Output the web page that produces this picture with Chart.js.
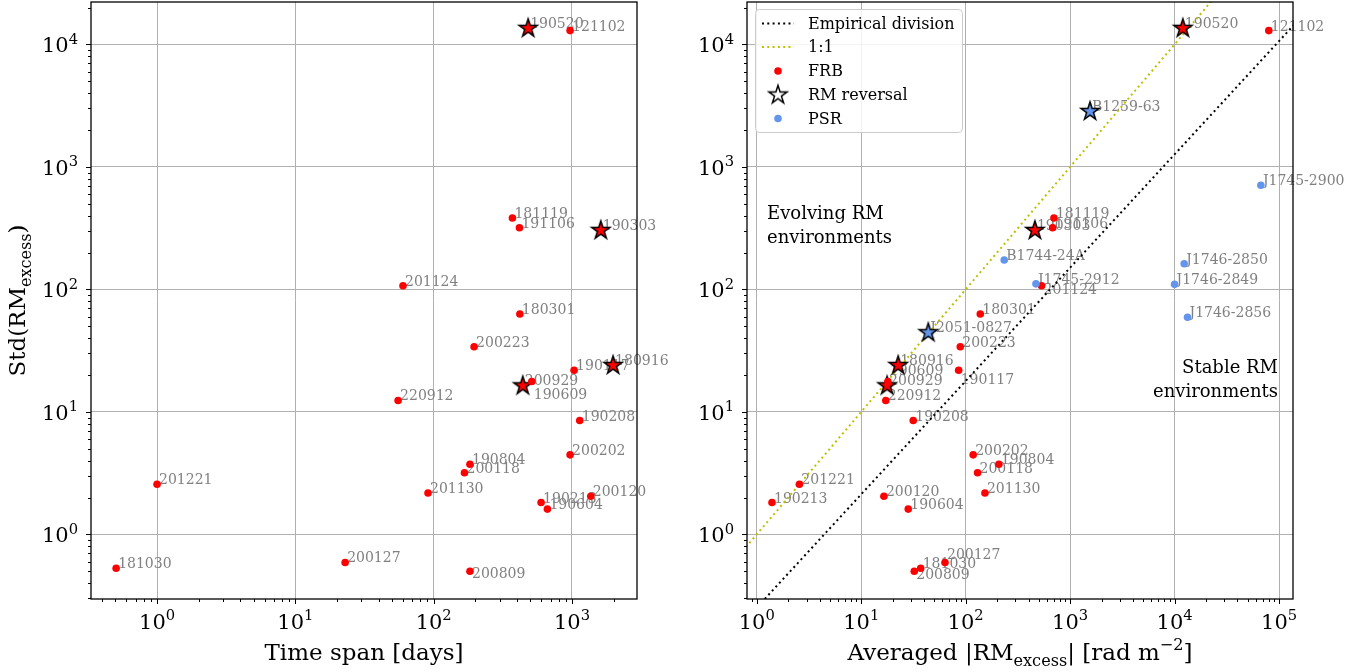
<!DOCTYPE html>
<html>
<head>
<meta charset="utf-8">
<script src="https://cdn.jsdelivr.net/npm/chart.js@4.4.1/dist/chart.umd.min.js"></script>
<style>
  html, body { margin: 0; padding: 0; background: #fff; }
  #wrap { position: relative; width: 1369px; height: 672px; }
  canvas { position: absolute; top: 0; }
  #spanChart { left: 0; }
  #rmChart { left: 690px; }
</style>
</head>
<body>
<div id="wrap">
  <canvas id="spanChart" width="690" height="672"></canvas>
  <canvas id="rmChart" width="679" height="672"></canvas>
</div>
<script>
// FRB sample
const frbNames = ['190520','121102','181119','191106','190303','180301','200223','190117','180916','200929','190609','190208','220912','201124','200202','190804','200118','201130','190213','190604','200120','200809','201221','181030','200127'];
const frbSpan = [482, 969, 371, 417, 1615, 420, 196, 1036, 1983, 441, 512, 1138, 55.3, 60, 969, 183, 167, 91, 598, 664, 1368, 183, 1.0, 0.506, 22.9];
const frbMeanRM = [12000, 79800, 700, 680, 460, 138, 88.8, 85.7, 22.6, 17.7, 18.0, 31.5, 17.2, 533, 118, 208, 130, 153, 1.4, 28.2, 16.5, 32.2, 2.56, 37.1, 63.4];
const frbStdRM = [13650, 12970, 383, 319, 306, 63, 34, 21.9, 24.2, 16.5, 17.7, 8.5, 12.4, 107, 4.46, 3.74, 3.19, 2.18, 1.82, 1.61, 2.05, 0.5, 2.57, 0.53, 0.59];
const frbReversal = [true, false, false, false, true, false, false, false, true, true, false, false, false, false, false, false, false, false, false, false, false, false, false, false, false];

// pulsars
const psrNames = ['B1259-63','J2051-0827','J1745-2900','J1746-2850','J1746-2849','J1746-2856','B1744-24A','J1745-2912'];
const psrMeanRM = [1550, 43.9, 67000, 12360, 10000, 13300, 234, 471];
const psrStdRM = [2866, 44.8, 709, 162, 110, 59.3, 174, 111];
const psrReversal = [true, true, false, false, false, false, false, false];

// reference lines (end points)
const empiricalX = [0.5, 150000];
const empiricalY = [0.133, 15500];
const unityX = [0.5, 30000];
const unityY = [0.5, 30000];

// axis ranges and decade ticks
const spanRange = [0.333, 2952];
const rmRange = [0.807, 136000];
const stdRange = [0.297, 22200];
const spanTicks = [0, 1, 2, 3];
const rmTicks = [0, 1, 2, 3, 4, 5];
const stdTicks = [0, 1, 2, 3, 4];

const SERIF = '"DejaVu Serif", "Liberation Serif", serif';

// label nudges (px) where the labels were pushed apart
const leftShift = { '190609': [0, 17], '200809': [0, 7] };
const rightShift = { '190609': [0, -7], '190117': [0, 14], '201124': [0, 8], '200127': [0, -3], '200809': [0, 8] };

function makeStar(fill) {
  const c = document.createElement('canvas');
  c.width = 26; c.height = 26;
  const g = c.getContext('2d');
  const R = 9.5, r = R * 0.382;
  g.beginPath();
  for (let i = 0; i < 10; i++) {
    const rad = i % 2 ? r : R;
    const ang = -Math.PI / 2 + i * Math.PI / 5;
    const px = 13 + rad * Math.cos(ang), py = 13.5 + rad * Math.sin(ang);
    if (i) g.lineTo(px, py); else g.moveTo(px, py);
  }
  g.closePath();
  g.fillStyle = fill; g.fill();
  g.lineWidth = 1.5; g.strokeStyle = '#000'; g.stroke();
  return c;
}
const redStar = makeStar('#ff0000');
const blueStar = makeStar('#6495ed');
const whiteStar = makeStar('#ffffff');

function richText(ctx, parts, x, y, size, align) {
  const sz = p => (p.s ? size * 0.7 : size);
  let w = 0;
  const ws = parts.map(p => { ctx.font = sz(p) + 'px ' + SERIF; const m = ctx.measureText(p.t).width; w += m; return m; });
  let cx = align === 'center' ? x - w / 2 : align === 'right' ? x - w : x;
  ctx.textAlign = 'left';
  ctx.textBaseline = 'alphabetic';
  parts.forEach((p, i) => {
    ctx.font = sz(p) + 'px ' + SERIF;
    const dy = p.s === 'sub' ? size * 0.25 : p.s === 'sup' ? -size * 0.42 : 0;
    ctx.fillText(p.t, cx, y + dy);
    cx += ws[i];
  });
}

function drawFrame(chart, xExp, yExp) {
  const { ctx, chartArea: a, scales: { x, y } } = chart;
  ctx.save();
  ctx.strokeStyle = '#000';
  ctx.lineWidth = 1;
  ctx.beginPath();
  for (let e = -1; e <= 6; e++) {
    for (let m = 1; m < 10; m++) {
      const v = m * Math.pow(10, e);
      const len = m === 1 ? 5 : 3;
      if (v >= x.min && v <= x.max) {
        const px = Math.round(x.getPixelForValue(v)) + 0.5;
        ctx.moveTo(px, a.bottom); ctx.lineTo(px, a.bottom + len);
      }
      if (v >= y.min && v <= y.max) {
        const py = Math.round(y.getPixelForValue(v)) + 0.5;
        ctx.moveTo(a.left, py); ctx.lineTo(a.left - len, py);
      }
    }
  }
  ctx.stroke();
  ctx.lineWidth = 1.3;
  ctx.strokeRect(a.left, a.top, a.right - a.left, a.bottom - a.top);

  ctx.fillStyle = '#000';
  xExp.forEach(e => richText(ctx, [{ t: '10' }, { t: String(e), s: 'sup' }], x.getPixelForValue(Math.pow(10, e)), 629, 21, 'center'));
  yExp.forEach(e => richText(ctx, [{ t: '10' }, { t: String(e), s: 'sup' }], a.left - 13, y.getPixelForValue(Math.pow(10, e)) + 8, 21, 'right'));
  ctx.restore();
}

function pointLabels(sets, shifts) {
  return {
    id: 'pointLabels',
    beforeDatasetsDraw(chart) {
      const { ctx, scales: { x, y } } = chart;
      ctx.save();
      ctx.font = '14px ' + SERIF;
      ctx.fillStyle = '#808080';
      ctx.textAlign = 'left';
      ctx.textBaseline = 'alphabetic';
      sets.forEach(s => s.names.forEach((n, i) => {
        const d = shifts[n] || [0, 0];
        ctx.fillText(n, x.getPixelForValue(s.xs[i]) + 2 + d[0], y.getPixelForValue(s.ys[i]) + d[1]);
      }));
      ctx.restore();
    }
  };
}

function logScale(range, exps, fit) {
  return {
    type: 'logarithmic',
    bounds: 'data',
    min: range[0],
    max: range[1],
    afterBuildTicks: s => { s.ticks = exps.map(e => ({ value: Math.pow(10, e) })); },
    afterFit: fit,
    ticks: { display: false },
    grid: { color: '#b0b0b0', lineWidth: 1, drawTicks: false },
    border: { display: false }
  };
}

function pointSet(xs, ys, flags, color, starImg) {
  return {
    data: xs.map((v, i) => ({ x: v, y: ys[i] })),
    pointStyle: c => (flags[c.dataIndex] ? starImg : 'circle'),
    pointRadius: 3.8,
    backgroundColor: color,
    pointBackgroundColor: color,
    borderWidth: 0,
    pointBorderWidth: 0
  };
}

function refLine(xs, ys, color) {
  return {
    data: xs.map((v, i) => ({ x: v, y: ys[i] })),
    showLine: true,
    pointRadius: 0,
    borderColor: color,
    borderWidth: 2,
    borderDash: [2, 3.3]
  };
}

// left panel: scatter vs time span
new Chart(document.getElementById('spanChart'), {
  type: 'scatter',
  data: { datasets: [pointSet(frbSpan, frbStdRM, frbReversal, '#ff0000', redStar)] },
  options: {
    responsive: false,
    animation: false,
    events: [],
    layout: { autoPadding: false, padding: { top: 2, right: 53, left: 0, bottom: 0 } },
    plugins: { legend: { display: false }, tooltip: { enabled: false } },
    scales: {
      x: logScale(spanRange, spanTicks, s => { s.height = 73; }),
      y: logScale(stdRange, stdTicks, s => { s.width = 91; })
    }
  },
  plugins: [
    pointLabels([{ names: frbNames, xs: frbSpan, ys: frbStdRM }], leftShift),
    {
      id: 'decor',
      afterDraw(chart) {
        drawFrame(chart, spanTicks, stdTicks);
        const ctx = chart.ctx;
        ctx.save();
        ctx.fillStyle = '#000';
        richText(ctx, [{ t: 'Time span [days]' }], 364, 660, 23, 'center');
        ctx.translate(25, 300.5);
        ctx.rotate(-Math.PI / 2);
        richText(ctx, [{ t: 'Std(RM' }, { t: 'excess', s: 'sub' }, { t: ')' }], 0, 0, 23, 'center');
        ctx.restore();
      }
    }
  ]
});

// right panel: scatter vs averaged RM
const legendRows = [
  { text: 'Empirical division', line: '#000000' },
  { text: '1:1', line: '#bfbf00' },
  { text: 'FRB', dot: '#ff0000' },
  { text: 'RM reversal', star: whiteStar },
  { text: 'PSR', dot: '#6495ed' }
];

new Chart(document.getElementById('rmChart'), {
  type: 'scatter',
  data: {
    datasets: [
      pointSet(psrMeanRM, psrStdRM, psrReversal, '#6495ed', blueStar),
      pointSet(frbMeanRM, frbStdRM, frbReversal, '#ff0000', redStar),
      refLine(unityX, unityY, '#bfbf00'),
      refLine(empiricalX, empiricalY, '#000000')
    ]
  },
  options: {
    responsive: false,
    animation: false,
    events: [],
    layout: { autoPadding: false, padding: { top: 2, right: 76, left: 0, bottom: 0 } },
    plugins: { legend: { display: false }, tooltip: { enabled: false } },
    scales: {
      x: logScale(rmRange, rmTicks, s => { s.height = 73; }),
      y: logScale(stdRange, stdTicks, s => { s.width = 57; })
    }
  },
  plugins: [
    pointLabels([
      { names: frbNames, xs: frbMeanRM, ys: frbStdRM },
      { names: psrNames, xs: psrMeanRM, ys: psrStdRM }
    ], rightShift),
    {
      id: 'decor',
      afterDraw(chart) {
        drawFrame(chart, rmTicks, stdTicks);
        const ctx = chart.ctx;
        ctx.save();
        ctx.fillStyle = '#000';
        richText(ctx, [{ t: 'Averaged |RM' }, { t: 'excess', s: 'sub' }, { t: '| [rad m' }, { t: '\u22122', s: 'sup' }, { t: ']' }], 330, 660, 23, 'center');

        ctx.font = '18px ' + SERIF;
        ctx.textAlign = 'left';
        ctx.fillText('Evolving RM', 77, 219);
        ctx.fillText('environments', 77, 243);
        ctx.textAlign = 'right';
        ctx.fillText('Stable RM', 588, 373);
        ctx.fillText('environments', 588, 397);

        // legend
        const bx = 65, by = 9, bw = 207, bh = 123;
        ctx.beginPath();
        ctx.roundRect(bx + 0.5, by + 0.5, bw, bh, 4);
        ctx.fillStyle = 'rgba(255,255,255,0.85)';
        ctx.fill();
        ctx.strokeStyle = '#cccccc';
        ctx.lineWidth = 1;
        ctx.stroke();
        const rowY = [23.5, 47, 71, 94.5, 118.5];
        legendRows.forEach((row, i) => {
          const cy = rowY[i];
          if (row.line) {
            ctx.save();
            ctx.strokeStyle = row.line;
            ctx.lineWidth = 2;
            ctx.setLineDash([2, 3.3]);
            ctx.beginPath();
            ctx.moveTo(72, cy); ctx.lineTo(104, cy);
            ctx.stroke();
            ctx.restore();
          } else if (row.dot) {
            ctx.beginPath();
            ctx.arc(88, cy, 3.8, 0, Math.PI * 2);
            ctx.fillStyle = row.dot;
            ctx.fill();
          } else if (row.star) {
            ctx.drawImage(row.star, 88 - 13, cy - 13);
          }
          ctx.fillStyle = '#000';
          ctx.font = '16px ' + SERIF;
          ctx.textAlign = 'left';
          ctx.textBaseline = 'middle';
          ctx.fillText(row.text, 118, cy + 1);
        });
        ctx.restore();
      }
    }
  ]
});
</script>
</body>
</html>
